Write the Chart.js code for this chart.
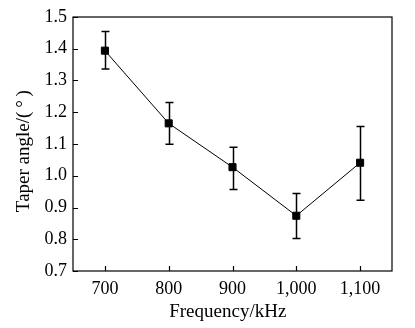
<!DOCTYPE html>
<html><head><meta charset="utf-8">
<script src="https://cdn.jsdelivr.net/npm/chart.js@4"></script>
<style>html,body{margin:0;padding:0;background:#fff}canvas{display:block}</style>
</head><body>
<canvas id="c" width="415" height="328"></canvas>
<script>
const frequencies = [700, 800, 900, 1000, 1100];
const taperAngle = [1.394, 1.165, 1.027, 0.874, 1.041];
const errLow = [1.336, 1.099, 0.957, 0.802, 0.923];
const errHigh = [1.454, 1.231, 1.090, 0.944, 1.155];
const xTicks = [700, 800, 900, 1000, 1100];
const yTicks = [0.7, 0.8, 0.9, 1.0, 1.1, 1.2, 1.3, 1.4, 1.5];

const FONT = "'Liberation Serif', 'Times New Roman', serif";

const framePlugin = {
  id: 'frame',
  afterDatasetsDraw(chart) {
    const {ctx, chartArea: a, scales: {x, y}} = chart;
    ctx.save();
    ctx.strokeStyle = '#000';
    ctx.lineWidth = 1.5;
    frequencies.forEach((f, i) => {
      const px = Math.round(x.getPixelForValue(f)) + 0.5;
      const lo = y.getPixelForValue(errLow[i]);
      const hi = y.getPixelForValue(errHigh[i]);
      ctx.beginPath();
      ctx.moveTo(px, lo); ctx.lineTo(px, hi);
      ctx.moveTo(px - 4, lo); ctx.lineTo(px + 4, lo);
      ctx.moveTo(px - 4, hi); ctx.lineTo(px + 4, hi);
      ctx.stroke();
    });
    ctx.lineWidth = 1.2;
    ctx.strokeRect(a.left, a.top, a.right - a.left, a.bottom - a.top);
    ctx.beginPath();
    xTicks.forEach(v => {
      const px = Math.round(x.getPixelForValue(v)) + 0.5;
      ctx.moveTo(px, a.bottom); ctx.lineTo(px, a.bottom - 5);
    });
    yTicks.forEach(v => {
      const py = Math.round(y.getPixelForValue(v)) + 0.5;
      ctx.moveTo(a.left, py); ctx.lineTo(a.left + 5, py);
    });
    ctx.stroke();
    ctx.restore();
  }
};

new Chart(document.getElementById('c'), {
  type: 'scatter',
  data: {
    datasets: [{
      data: frequencies.map((f, i) => ({x: f, y: taperAngle[i]})),
      showLine: true,
      borderColor: '#000',
      borderWidth: 1,
      backgroundColor: '#000',
      pointStyle: 'rect',
      pointRadius: 5,
      pointHoverRadius: 5
    }]
  },
  options: {
    responsive: false,
    animation: false,
    events: [],
    layout: {padding: {top: 17, right: 23, left: 0, bottom: 0}},
    plugins: {legend: {display: false}, tooltip: {enabled: false}},
    scales: {
      x: {
        type: 'linear', min: 650, max: 1150,
        afterBuildTicks(s) { s.ticks = xTicks.map(v => ({value: v})); },
        afterFit(s) { s.height = 57; },
        grid: {display: false, drawTicks: false},
        border: {display: false},
        ticks: {
          color: '#000', padding: 7,
          font: {family: FONT, size: 18},
          callback: v => v.toLocaleString('en-US')
        },
        title: {display: true, text: '\u00a0Frequency/kHz\u00a0\u00a0\u00a0', color: '#000',
          font: {family: FONT, size: 19}, padding: {top: 2, bottom: 5}}
      },
      y: {
        min: 0.7, max: 1.5,
        afterBuildTicks(s) { s.ticks = yTicks.map(v => ({value: v})); },
        afterFit(s) { s.width = 73; },
        grid: {display: false, drawTicks: false},
        border: {display: false},
        ticks: {
          color: '#000', padding: 6,
          font: {family: FONT, size: 18},
          callback: v => v.toFixed(1)
        },
        title: {display: true, text: 'Taper angle/(\u2009°\u2009)\u00a0\u00a0\u00a0', color: '#000',
          font: {family: FONT, size: 19}, padding: {top: 13, bottom: 0}}
      }
    }
  },
  plugins: [framePlugin]
});
</script>
</body></html>
